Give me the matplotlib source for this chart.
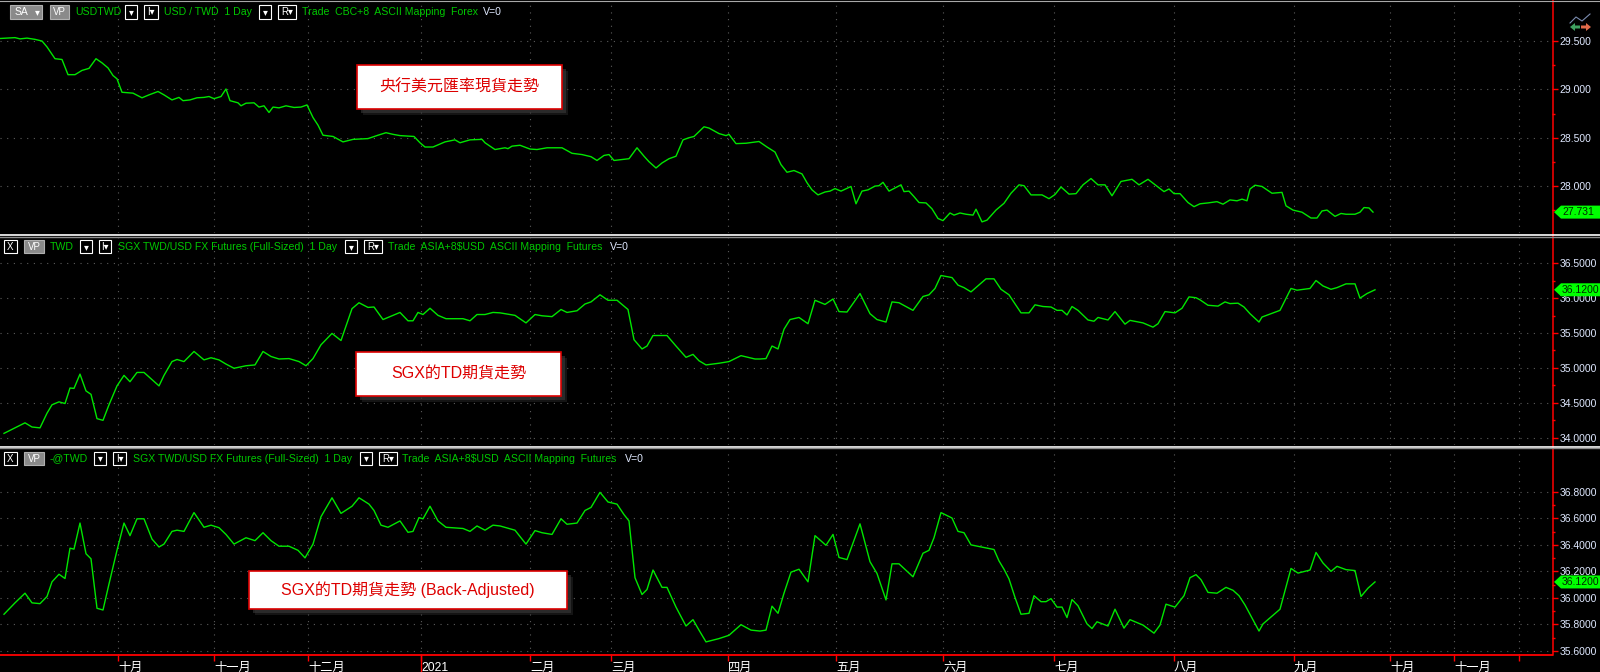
import numpy as np
import matplotlib
matplotlib.use("Agg")
from matplotlib import pyplot as plt
from matplotlib.patches import Rectangle, Polygon
from matplotlib.lines import Line2D
from matplotlib.ticker import FixedLocator, FormatStrFormatter

W, H = 1600, 672
plt.rcParams['font.family'] = ['Liberation Sans', 'Noto Sans CJK TC', 'DejaVu Sans']

# ---- data (x = position on the daily session axis) ----
usd_x = [0, 15, 20, 27, 35, 42, 47, 55, 62, 68, 75, 82, 89, 96, 102, 108, 113, 117, 122, 133,
         142, 149, 158, 164, 172, 179, 183, 190, 197, 204, 209, 214, 221, 226, 230, 238, 241, 246, 254, 259,
         264, 269, 273, 279, 286, 294, 301, 307, 313, 318, 323, 333, 343, 353, 368, 378, 386, 393, 400, 414,
         420, 425, 433, 445, 455, 460, 470, 482, 485, 495, 505, 508, 512, 520, 530, 537, 547, 562, 572, 582,
         591, 597, 604, 609, 614, 629, 637, 644, 649, 656, 662, 669, 676, 683, 689, 694, 704, 709, 719, 726,
         729, 736, 746, 759, 767, 775, 781, 787, 794, 802, 807, 812, 818, 825, 830, 835, 841, 851, 856, 862,
         868, 875, 879, 883, 889, 901, 904, 909, 914, 919, 926, 932, 938, 943, 950, 954, 960, 966, 973, 976,
         982, 987, 996, 1004, 1011, 1019, 1024, 1031, 1042, 1049, 1055, 1061, 1069, 1076, 1083, 1091, 1098, 1105, 1112, 1121,
         1132, 1139, 1148, 1158, 1164, 1169, 1174, 1180, 1188, 1194, 1200, 1208, 1217, 1223, 1230, 1237, 1242, 1247, 1250, 1255,
         1262, 1272, 1282, 1286, 1293, 1302, 1311, 1317, 1322, 1327, 1335, 1341, 1346, 1355, 1360, 1364, 1369, 1373]
usd_y = [29.526, 29.535, 29.522, 29.530, 29.517, 29.500, 29.439, 29.317, 29.309, 29.152,
         29.152, 29.196, 29.217, 29.317, 29.274, 29.222, 29.143, 29.109, 28.970, 28.961,
         28.913, 28.943, 28.978, 28.943, 28.891, 28.917, 28.883, 28.891, 28.913, 28.917,
         28.926, 28.904, 28.926, 29.004, 28.883, 28.861, 28.830, 28.857, 28.861, 28.817,
         28.830, 28.761, 28.817, 28.809, 28.830, 28.813, 28.817, 28.839, 28.709, 28.630,
         28.526, 28.513, 28.457, 28.483, 28.491, 28.526, 28.552, 28.535, 28.522, 28.513,
         28.448, 28.404, 28.404, 28.457, 28.478, 28.448, 28.478, 28.483, 28.448, 28.378,
         28.396, 28.387, 28.413, 28.422, 28.383, 28.378, 28.396, 28.396, 28.339, 28.326,
         28.304, 28.265, 28.317, 28.326, 28.265, 28.283, 28.396, 28.309, 28.252, 28.187,
         28.239, 28.283, 28.309, 28.478, 28.500, 28.513, 28.613, 28.600, 28.543, 28.522,
         28.535, 28.439, 28.443, 28.461, 28.404, 28.352, 28.222, 28.143, 28.161, 28.126,
         28.035, 27.961, 27.909, 27.939, 27.948, 27.974, 27.948, 27.996, 27.817, 27.948,
         27.961, 28.000, 28.004, 28.039, 27.948, 28.013, 27.943, 27.948, 27.891, 27.830,
         27.826, 27.765, 27.665, 27.643, 27.722, 27.700, 27.722, 27.709, 27.700, 27.761,
         27.630, 27.648, 27.752, 27.822, 27.926, 28.013, 28.004, 27.909, 27.909, 27.870,
         27.913, 27.991, 27.917, 27.922, 28.013, 28.078, 28.013, 28.013, 27.900, 28.048,
         28.070, 28.013, 28.070, 27.991, 27.943, 27.970, 27.922, 27.922, 27.830, 27.787,
         27.817, 27.826, 27.839, 27.813, 27.857, 27.848, 27.865, 27.848, 27.970, 28.009,
         27.996, 27.926, 27.935, 27.796, 27.752, 27.730, 27.670, 27.670, 27.743, 27.752,
         27.687, 27.717, 27.709, 27.709, 27.730, 27.778, 27.774, 27.731]

twd_x = [4, 15, 25, 32, 40, 47, 52, 59, 65, 70, 74, 80, 86, 91, 97, 103, 109, 117, 124, 130,
         137, 144, 152, 159, 164, 172, 177, 184, 194, 204, 211, 219, 226, 234, 246, 255, 263, 271, 279, 289,
         299, 306, 313, 321, 332, 341, 352, 359, 368, 374, 383, 393, 400, 408, 413, 418, 423, 430, 438, 446,
         463, 470, 477, 485, 493, 500, 515, 526, 535, 542, 552, 561, 567, 577, 585, 591, 600, 608, 617, 628,
         634, 642, 647, 653, 667, 676, 686, 693, 699, 706, 719, 729, 741, 755,
         760, 766, 772, 778, 784, 790, 799, 808, 815, 825, 833, 839, 847, 860, 870, 877, 886, 892, 899, 913,
         923, 929, 935, 941, 952, 958, 964, 971, 986, 994, 1001, 1009, 1021, 1029, 1035, 1043, 1051, 1057, 1062, 1067,
         1072, 1078, 1088, 1094, 1098, 1108, 1115, 1125, 1130, 1143, 1153, 1158, 1165, 1175, 1182, 1189, 1196, 1200, 1208, 1218,
         1225, 1230, 1238, 1244, 1250, 1259, 1262, 1280, 1291, 1297, 1310, 1316, 1323, 1331, 1337, 1346, 1355, 1360, 1367, 1375]
twd_y = [34.060, 34.139, 34.211, 34.151, 34.139, 34.349, 34.470, 34.512, 34.488, 34.711,
         34.705, 34.910, 34.669, 34.620, 34.271, 34.247, 34.470, 34.741, 34.892, 34.801,
         34.934, 34.934, 34.831, 34.741, 34.892, 35.090, 35.120, 35.090, 35.235, 35.114,
         35.145, 35.114, 35.054, 34.994, 35.030, 35.042, 35.235, 35.163, 35.127, 35.133,
         35.090, 35.030, 35.133, 35.331, 35.494, 35.392, 35.849, 35.934, 35.867, 35.873,
         35.693, 35.753, 35.795, 35.675, 35.675, 35.795, 35.765, 35.855, 35.753, 35.705,
         35.705, 35.675, 35.765, 35.765, 35.795, 35.789, 35.753, 35.645, 35.765, 35.747,
         35.735, 35.837, 35.795, 35.819, 35.916, 35.946, 36.048, 35.970, 35.970, 35.837,
         35.404, 35.271, 35.313, 35.464, 35.464, 35.313, 35.151, 35.193, 35.102, 35.042,
         35.066, 35.090, 35.175, 35.127,
         35.127, 35.133, 35.313, 35.271, 35.554, 35.693, 35.723, 35.633, 35.970, 35.910,
         35.988, 35.807, 35.801, 36.066, 35.777, 35.693, 35.657, 35.946, 35.934, 35.825,
         36.024, 36.048, 36.139, 36.325, 36.295, 36.187, 36.151, 36.090, 36.277, 36.277,
         36.127, 36.048, 35.789, 35.789, 35.904, 35.880, 35.873, 35.825, 35.825, 35.759,
         35.880, 35.825, 35.687, 35.669, 35.723, 35.687, 35.807, 35.627, 35.681, 35.645,
         35.584, 35.633, 35.807, 35.789, 35.855, 36.018, 36.006, 35.976, 35.898, 35.886,
         35.946, 35.922, 35.928, 35.873, 35.777, 35.657, 35.729, 35.825, 36.139, 36.114,
         36.139, 36.253, 36.175, 36.127, 36.151, 36.205, 36.205, 36.000, 36.066, 36.120]

adj_x = [4, 15, 25, 32, 40, 47, 52, 59, 65, 70, 74, 80, 86, 91, 97, 103, 109, 117, 124, 130,
         137, 144, 152, 159, 164, 172, 177, 184, 194, 204, 211, 219, 226, 234, 246, 255, 263, 271, 279, 289,
         298, 305, 313, 321, 332, 341, 352, 359, 369, 374, 381, 388, 400, 408, 413, 419, 423, 430, 438, 446,
         463, 470, 477, 485, 493, 500, 515, 526, 535, 542, 552, 561, 567, 577, 585, 591, 600, 608, 617, 624,
         629, 635, 642, 647, 653, 662, 667, 676, 686, 693, 699, 706, 719, 729, 741, 751,
         760, 766, 772, 778, 784, 791, 799, 808, 815, 826, 833, 839, 847, 860, 870, 877, 886, 892, 899, 913,
         923, 929, 934, 941, 952, 958, 964, 971, 994, 999, 1004, 1009, 1015, 1021, 1029, 1034, 1041, 1046, 1051, 1057,
         1062, 1067, 1072, 1078, 1087, 1092, 1097, 1108, 1115, 1124, 1130, 1143, 1154, 1160, 1166, 1175, 1184, 1190, 1196, 1201,
         1208, 1217, 1226, 1233, 1239, 1245, 1259, 1263, 1280, 1291, 1298, 1310, 1316, 1323, 1331, 1337, 1346, 1355, 1361, 1368,
         1375]
adj_y = [35.876, 35.962, 36.035, 35.962, 35.956, 36.010, 36.121, 36.178, 36.146, 36.375,
         36.368, 36.565, 36.333, 36.295, 35.921, 35.908, 36.105, 36.359, 36.565, 36.470,
         36.597, 36.597, 36.444, 36.384, 36.406, 36.502, 36.511, 36.502, 36.644, 36.533,
         36.549, 36.530, 36.479, 36.406, 36.454, 36.432, 36.492, 36.432, 36.390, 36.390,
         36.359, 36.302, 36.406, 36.613, 36.756, 36.638, 36.692, 36.756, 36.708, 36.660,
         36.549, 36.533, 36.581, 36.495, 36.502, 36.606, 36.597, 36.692, 36.581, 36.533,
         36.524, 36.502, 36.543, 36.511, 36.549, 36.543, 36.511, 36.406, 36.508, 36.492,
         36.479, 36.597, 36.556, 36.565, 36.660, 36.683, 36.797, 36.724, 36.708, 36.629,
         36.581, 36.152, 36.025, 36.063, 36.210, 36.079, 36.079, 35.930, 35.787, 35.835,
         35.756, 35.667, 35.692, 35.717, 35.797, 35.756,
         35.749, 35.756, 35.937, 35.883, 36.035, 36.194, 36.216, 36.121, 36.470, 36.397,
         36.479, 36.305, 36.289, 36.559, 36.273, 36.184, 35.984, 36.257, 36.257, 36.159,
         36.337, 36.359, 36.454, 36.644, 36.603, 36.502, 36.492, 36.400, 36.365, 36.279,
         36.216, 36.143, 36.003, 35.876, 35.883, 36.016, 35.971, 35.971, 35.994, 35.930,
         35.930, 35.851, 35.987, 35.940, 35.803, 35.768, 35.819, 35.787, 35.914, 35.771,
         35.835, 35.794, 35.733, 35.794, 35.952, 35.930, 36.016, 36.152, 36.175, 36.137,
         36.041, 36.035, 36.079, 36.057, 36.016, 35.946, 35.749, 35.803, 35.914, 36.222,
         36.187, 36.210, 36.343, 36.263, 36.200, 36.238, 36.213, 36.206, 36.010, 36.073,
         36.120]

month_pos = [118, 214, 308, 421, 530, 611, 728, 836, 943, 1054, 1174, 1294, 1390, 1454, 1519]
month_lbl = ['十月', '十一月', '十二月', '2021', '二月', '三月', '四月', '五月', '六月',
             '七月', '八月', '九月', '十月', '十一月', '']
year_pos = 421

usd_ticks = [28.0, 28.5, 29.0, 29.5]
twd_ticks = [34.0, 34.5, 35.0, 35.5, 36.0, 36.5]
adj_ticks = [35.6, 35.8, 36.0, 36.2, 36.4, 36.6, 36.8]

notes = ['央行美元匯率現貨走勢', 'SGX的TD期貨走勢', 'SGX的TD期貨走勢 (Back-Adjusted)']

# ---- style ----
LINE = '#00e600'
HDR = '#00c800'
RED = '#ff0000'
AXTXT = '#dfe8ff'
GRID = '#5c5c5c'
X_END = 1552
HSIZE = 7.6

fig = plt.figure(figsize=(W / 100, H / 100), dpi=100, facecolor='black')


def fx(px):
    return px / W


def fy(py):
    return 1 - py / H


def make_panel(top, bottom, ylim, ticks, fmt):
    ax = fig.add_axes([0, fy(bottom), fx(X_END), (bottom - top) / H])
    ax.set_facecolor('black')
    for s in ax.spines.values():
        s.set_visible(False)
    ax.set_xlim(0, X_END)
    ax.set_ylim(*ylim)
    ax.yaxis.tick_right()
    ax.yaxis.set_major_locator(FixedLocator(ticks))
    step = ticks[1] - ticks[0]
    ax.yaxis.set_minor_locator(FixedLocator([t + step / 2 for t in ticks[:-1]] + [ticks[0] - step / 2]))
    ax.yaxis.set_major_formatter(FormatStrFormatter(fmt))
    ax.tick_params(axis='y', which='major', color=RED, labelcolor=AXTXT, length=4,
                   width=1, pad=1.5, labelsize=7.5)
    ax.tick_params(axis='y', which='minor', color=RED, length=2.5, width=1)
    ax.set_xticks(month_pos)
    ax.tick_params(axis='x', length=0, labelbottom=False)
    ax.grid(True, which='major', color=GRID, linestyle=(0, (1, 5)), linewidth=0.8)
    return ax


ax1 = make_panel(0, 233, (27.515, 29.924), usd_ticks, '%.3f')
ax2 = make_panel(238, 445, (33.893, 36.863), twd_ticks, '%.4f')
ax3 = make_panel(450, 655, (35.568, 37.117), adj_ticks, '%.4f')

ax1.plot(usd_x, usd_y, color=LINE, lw=1.0)
ax2.plot(twd_x, twd_y, color=LINE, lw=1.0)
ax3.plot(adj_x, adj_y, color=LINE, lw=1.0)

# bottom date axis
ax3.spines['bottom'].set_visible(True)
ax3.spines['bottom'].set_color(RED)
ax3.spines['bottom'].set_linewidth(1.3)
ax3.set_xticklabels(month_lbl, ha='left')
ax3.tick_params(axis='x', length=4.5, width=1, color=RED, labelcolor='white',
                labelsize=8.8, pad=0.5, labelbottom=True)
ax3.plot([year_pos, year_pos], [0, -0.1], transform=ax3.get_xaxis_transform(),
         color=RED, lw=1, clip_on=False)

# right price axis line, separators, top edge
fig.add_artist(Line2D([fx(X_END + 0.5)] * 2, [fy(0), fy(655)], color=RED, lw=1.1))
fig.add_artist(Line2D([0, 1], [fy(0.5)] * 2, color='#a8a8a8', lw=0.8))
for yy in (235, 446.5):
    fig.add_artist(Line2D([0, 1], [fy(yy)] * 2, color='white', lw=1.2))
    fig.add_artist(Line2D([0, 1], [fy(yy + 1.8)] * 2, color='#8c8c8c', lw=1.0))


# last value tags
def value_tag(ax, value, text):
    yd = ax.transData.transform((0, value))[1]
    pts = [(1554, yd), (1561, yd + 6.5), (1600, yd + 6.5), (1600, yd - 6.5), (1561, yd - 6.5)]
    fig.add_artist(Polygon([(px / W, py / H) for px, py in pts], closed=True,
                           transform=fig.transFigure, fc='#00ff00', ec='none'))
    fig.text(fx(1562), yd / H, text, color='#002800', size=7.5, ha='left', va='center')


value_tag(ax1, usd_y[-1], '%.3f' % usd_y[-1])
value_tag(ax2, twd_y[-1], '%.4f' % twd_y[-1])
value_tag(ax3, adj_y[-1], '%.4f' % adj_y[-1])


# header bars
def hbox(x0, x1, yc, txt, fc='black', ec='white', tc='white'):
    fig.add_artist(Rectangle((fx(x0), fy(yc + 6.5)), (x1 - x0) / W, 13 / H,
                             transform=fig.transFigure, fc=fc, ec=ec, lw=0.8))
    fig.text(fx((x0 + x1) / 2), fy(yc), txt, color=tc, size=7, ha='center', va='center')


def htext(x, yc, txt, color=HDR):
    fig.text(fx(x), fy(yc), txt, color=color, size=HSIZE, ha='left', va='center')


# panel 1
y = 12
fig.add_artist(Rectangle((fx(10), fy(y + 6.5)), 32 / W, 13 / H, transform=fig.transFigure,
                         fc='#8a8a8a', ec='#b0b0b0', lw=0.8))
fig.text(fx(21), fy(y), 'SA', color='white', size=7.5, ha='center', va='center')
fig.text(fx(37.5), fy(y), '▾', color='white', size=7, ha='center', va='center')
hbox(50, 69, y, 'VP', fc='#8a8a8a', ec='#b0b0b0')
htext(75, y, 'USDTWD')
hbox(125, 137, y, '▾')
hbox(144, 158, y, 'I▾')
htext(164, y, 'USD / TWD  1 Day')
hbox(259, 271, y, '▾')
hbox(278, 296, y, 'R▾')
htext(302, y, 'Trade  CBC+8  ASCII Mapping  Forex')
htext(483, y, 'V=0', color=AXTXT)

# panel 2
y = 247
hbox(4, 17, y, 'X')
hbox(24, 44, y, 'VP', fc='#8a8a8a', ec='#b0b0b0')
htext(50, y, 'TWD')
hbox(80, 92, y, '▾')
hbox(99, 111, y, 'I▾')
htext(118, y, 'SGX TWD/USD FX Futures (Full-Sized)  1 Day')
hbox(345, 357, y, '▾')
hbox(364, 382, y, 'R▾')
htext(388, y, 'Trade  ASIA+8$USD  ASCII Mapping  Futures')
htext(610, y, 'V=0', color=AXTXT)

# panel 3
y = 458.5
hbox(4, 17, y, 'X')
hbox(24, 44, y, 'VP', fc='#8a8a8a', ec='#b0b0b0')
htext(50, y, '-@TWD')
hbox(94, 106, y, '▾')
hbox(113, 126, y, 'I▾')
htext(133, y, 'SGX TWD/USD FX Futures (Full-Sized)  1 Day')
hbox(360, 372, y, '▾')
hbox(379, 397, y, 'R▾')
htext(402, y, 'Trade  ASIA+8$USD  ASCII Mapping  Futures')
htext(625, y, 'V=0', color=AXTXT)

# small icon at top right
fig.add_artist(Line2D([fx(1570), fx(1576), fx(1582), fx(1590)],
                      [fy(23), fy(17), fy(21), fy(14)], color='#7b8cb0', lw=0.8))
left_arrow = [(1570, 27), (1575, 23), (1575, 25.5), (1580, 25.5), (1580, 28.5), (1575, 28.5), (1575, 31)]
right_arrow = [(1591, 27), (1586, 23), (1586, 25.5), (1581, 25.5), (1581, 28.5), (1586, 28.5), (1586, 31)]
fig.add_artist(Polygon([(fx(a), fy(b)) for a, b in left_arrow], transform=fig.transFigure,
                       fc='#3fa060', ec='none'))
fig.add_artist(Polygon([(fx(a), fy(b)) for a, b in right_arrow], transform=fig.transFigure,
                       fc='#e06a4a', ec='none'))


# annotation boxes
def note(x0, y0, x1, y1, txt):
    for off, a in ((6, 0.35), (4, 0.6)):
        fig.add_artist(Rectangle((fx(x0 + off), fy(y1 + off)), (x1 - x0) / W, (y1 - y0) / H,
                                 transform=fig.transFigure, fc='#3a3a3a', ec='none', alpha=a))
    fig.add_artist(Rectangle((fx(x0), fy(y1)), (x1 - x0) / W, (y1 - y0) / H,
                             transform=fig.transFigure, fc='white', ec='#dd0000', lw=1.2))
    fig.text(fx((x0 + x1) / 2), fy((y0 + y1) / 2), txt, color='#dd0000', size=11.5,
             ha='center', va='center')


note(357, 65, 562, 109, notes[0])
note(356, 352, 561, 396, notes[1])
note(249, 571, 567, 609, notes[2])

fig.savefig('out.png', dpi=100, facecolor='black')
